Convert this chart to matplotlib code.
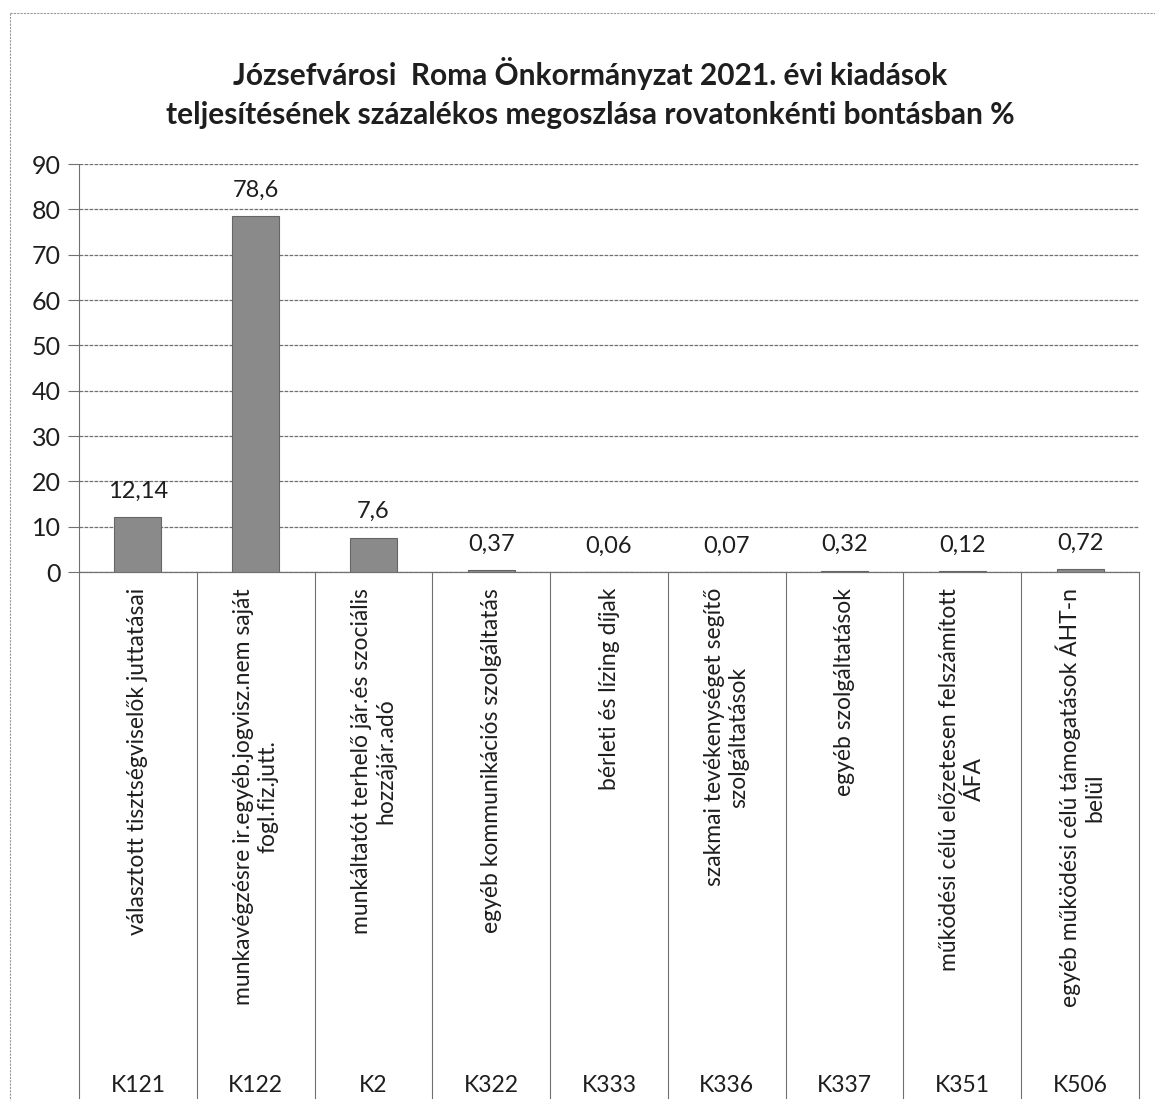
import matplotlib
matplotlib.use("Agg")
import matplotlib.pyplot as plt
from matplotlib.lines import Line2D

plt.rcParams['font.family'] = ['Lato', 'DejaVu Sans']

codes = ['K121', 'K122', 'K2', 'K322', 'K333', 'K336', 'K337', 'K351', 'K506']
names = [
    'választott tisztségviselők juttatásai',
    'munkavégzésre ir.egyéb.jogvisz.nem saját\nfogl.fiz.jutt.',
    'munkáltatót terhelő jár.és szociális\nhozzájár.adó',
    'egyéb kommunikációs szolgáltatás',
    'bérleti és lízing díjak',
    'szakmai tevékenységet segítő\nszolgáltatások',
    'egyéb szolgáltatások',
    'működési célú előzetesen felszámított\nÁFA',
    'egyéb működési célú támogatások ÁHT-n\nbelül',
]
values = [12.14, 78.6, 7.6, 0.37, 0.06, 0.07, 0.32, 0.12, 0.72]
value_labels = ['12,14', '78,6', '7,6', '0,37', '0,06', '0,07', '0,32', '0,12', '0,72']
yticks = list(range(0, 100, 10))

W, H = 1155, 1107
fig = plt.figure(figsize=(W / 100, H / 100), dpi=100)
ax = fig.add_axes([79 / W, 1 - 572 / H, 1060 / W, 408 / H])

grid_col = '#707070'
txt_col = '#1e1e1e'
xs = list(range(len(codes)))
ax.bar(xs, values, width=0.4, color='#8a8a8a', edgecolor='#666666', linewidth=0.8, zorder=3)

for x, v, lab in zip(xs, values, value_labels):
    ax.annotate(lab, (x, v), xytext=(0, 11), textcoords='offset points',
                ha='center', va='bottom', fontsize=17, color=txt_col)

ax.set_xlim(-0.5, len(codes) - 0.5)
ax.set_ylim(0, 90)
ax.set_yticks(yticks)
ax.set_yticklabels([str(t) for t in yticks], fontsize=18, color=txt_col)
ax.tick_params(axis='y', length=8, width=0.8, color=grid_col, pad=5)
ax.set_xticks([])
ax.yaxis.grid(True, color=grid_col, linewidth=0.9, linestyle=(0, (3, 1)), zorder=0)
for s in ['top', 'right']:
    ax.spines[s].set_visible(False)
ax.spines['left'].set_color(grid_col)
ax.spines['bottom'].set_color(grid_col)
ax.spines['left'].set_linewidth(0.8)
ax.spines['bottom'].set_linewidth(0.9)

# multi-level category axis below the plot
tr = ax.get_xaxis_transform()
px = 1 / 408
for i in range(len(codes) + 1):
    ax.plot([i - 0.5, i - 0.5], [0, -526 * px], transform=tr, color=grid_col,
            linewidth=0.8, clip_on=False)
for x, name, code in zip(xs, names, codes):
    ax.text(x, -16 * px, name, transform=tr, rotation=90, ha='center', va='top',
            multialignment='center', fontsize=16.5, color=txt_col, linespacing=1.2)
    ax.text(x, -513 * px, code, transform=tr, ha='center', va='center',
            fontsize=16.5, color=txt_col)

fig.text(590 / W, 1 - 93 / H,
         'Józsefvárosi  Roma Önkormányzat 2021. évi kiadások\n'
         'teljesítésének százalékos megoszlása rovatonkénti bontásban %',
         ha='center', va='center', fontsize=21.5, fontweight='bold', color=txt_col,
         linespacing=1.45)

# outer chart border
border = dict(color='#9a9a9a', linewidth=0.8, linestyle=(0, (2, 1)))
fig.add_artist(Line2D([10 / W, 1], [1 - 13 / H, 1 - 13 / H], transform=fig.transFigure, **border))
fig.add_artist(Line2D([10 / W, 10 / W], [1 - 13 / H, 1 - 1100 / H], transform=fig.transFigure, **border))

fig.savefig('out.png', dpi=100)
